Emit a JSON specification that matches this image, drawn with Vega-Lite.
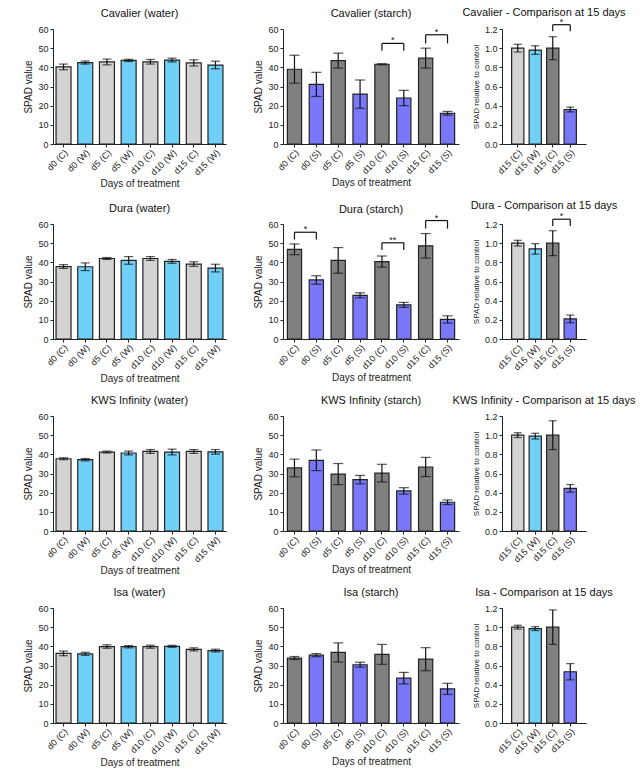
{
  "$schema": "https://vega.github.io/schema/vega-lite/v6.json",
  "padding": {"left": 23, "top": 6, "right": 0, "bottom": 0},
  "background": "white",
  "config": {
    "font": "Liberation Sans",
    "view": {"stroke": null},
    "title": {"fontSize": 11, "fontWeight": "normal", "font": "Liberation Sans", "offset": 6, "anchor": "middle", "frame": "group", "color": "#111"},
    "axis": {"domainColor": "#222", "tickColor": "#222", "labelColor": "#222", "titleColor": "#222", "labelFont": "Liberation Sans", "titleFont": "Liberation Sans", "labelFontSize": 9, "titleFontSize": 10, "titleFontWeight": "normal", "grid": false, "tickSize": 3, "domainWidth": 1, "tickWidth": 1},
    "axisX": {"labelAngle": -45, "labelPadding": 1, "titlePadding": 2},
    "axisY": {"labelPadding": 2, "titlePadding": 4},
    "bar": {"stroke": "#222", "strokeWidth": 1.2},
    "rule": {"color": "#111", "strokeWidth": 1.2},
    "text": {"fontSize": 9, "color": "#111"}
  },
  "vconcat": [
    {
      "hconcat": [
        {
          "title": "Cavalier (water)",
          "width": 173, "height": 115,
          "data": {"values": [
            {"k": "d0 (C)", "g": "C", "v": 40.2, "lo": 38.7, "hi": 41.7},
            {"k": "d0 (W)", "g": "W", "v": 42.5, "lo": 41.7, "hi": 43.3},
            {"k": "d5 (C)", "g": "C", "v": 42.8, "lo": 41.3, "hi": 44.3},
            {"k": "d5 (W)", "g": "W", "v": 43.6, "lo": 43.0, "hi": 44.2},
            {"k": "d10 (C)", "g": "C", "v": 42.9, "lo": 41.7, "hi": 44.1},
            {"k": "d10 (W)", "g": "W", "v": 43.8, "lo": 42.8, "hi": 44.8},
            {"k": "d15 (C)", "g": "C", "v": 42.3, "lo": 40.7, "hi": 43.9},
            {"k": "d15 (W)", "g": "W", "v": 41.2, "lo": 39.2, "hi": 43.2}
          ]},
          "encoding": {"x": {"field": "k", "type": "nominal", "scale": {"domain": ["d0 (C)", "d0 (W)", "d5 (C)", "d5 (W)", "d10 (C)", "d10 (W)", "d15 (C)", "d15 (W)"], "paddingInner": 0.31, "paddingOuter": 0.14}, "axis": {"title": "Days of treatment"}}},
          "layer": [
            {"mark": "bar", "encoding": {"y": {"field": "v", "type": "quantitative", "scale": {"domain": [0, 60], "nice": false}, "axis": {"title": "SPAD value", "values": [0, 10, 20, 30, 40, 50, 60]}}, "color": {"field": "g", "type": "nominal", "scale": {"domain": ["C", "W", "CS", "S"], "range": ["#d3d3d3", "#70d0f8", "#808080", "#7878f8"]}, "legend": null}}},
            {"mark": {"type": "errorbar", "color": "#111", "thickness": 1.2, "size": 9, "ticks": true}, "encoding": {"y": {"field": "lo", "type": "quantitative", "scale": {"domain": [0, 60], "nice": false}, "axis": {"title": "SPAD value", "values": [0, 10, 20, 30, 40, 50, 60]}}, "y2": {"field": "hi"}}}
          ]
        },
        {
          "hconcat": [
            {
              "title": "Cavalier (starch)",
              "width": 176, "height": 115,
              "data": {"values": [
                {"k": "d0 (C)", "g": "CS", "v": 39.0, "lo": 31.7, "hi": 46.3},
                {"k": "d0 (S)", "g": "S", "v": 31.1, "lo": 24.8, "hi": 37.4},
                {"k": "d5 (C)", "g": "CS", "v": 43.5, "lo": 39.6, "hi": 47.4},
                {"k": "d5 (S)", "g": "S", "v": 26.0, "lo": 18.6, "hi": 33.4},
                {"k": "d10 (C)", "g": "CS", "v": 41.6, "lo": 41.3, "hi": 41.9},
                {"k": "d10 (S)", "g": "S", "v": 24.0, "lo": 20.0, "hi": 28.0},
                {"k": "d15 (C)", "g": "CS", "v": 44.8, "lo": 39.6, "hi": 50.0},
                {"k": "d15 (S)", "g": "S", "v": 16.0, "lo": 15.0, "hi": 17.0}
              ]},
              "encoding": {"x": {"field": "k", "type": "nominal", "scale": {"domain": ["d0 (C)", "d0 (S)", "d5 (C)", "d5 (S)", "d10 (C)", "d10 (S)", "d15 (C)", "d15 (S)"], "paddingInner": 0.35, "paddingOuter": 0.2}, "axis": {"title": "Days of treatment"}}},
              "layer": [
                {"mark": "bar", "encoding": {"y": {"field": "v", "type": "quantitative", "scale": {"domain": [0, 60], "nice": false}, "axis": {"title": "SPAD value", "values": [0, 10, 20, 30, 40, 50, 60]}}, "color": {"field": "g", "type": "nominal", "scale": {"domain": ["C", "W", "CS", "S"], "range": ["#d3d3d3", "#70d0f8", "#808080", "#7878f8"]}, "legend": null}}},
                {"mark": {"type": "errorbar", "color": "#111", "thickness": 1.2, "size": 10, "ticks": true}, "encoding": {"y": {"field": "lo", "type": "quantitative", "scale": {"domain": [0, 60], "nice": false}, "axis": {"title": "SPAD value", "values": [0, 10, 20, 30, 40, 50, 60]}}, "y2": {"field": "hi"}}},
                {
                  "data": {"values": [
                    {"a": "d10 (C)", "b": "d10 (S)", "top": 52.5, "leg": 48.7, "s": "*"},
                    {"a": "d15 (C)", "b": "d15 (S)", "top": 57.0, "leg": 52.5, "s": "*"}
                  ]},
                  "layer": [
                    {"mark": "rule", "encoding": {"x": {"field": "a", "type": "nominal"}, "x2": {"field": "b"}, "y": {"field": "top", "type": "quantitative", "scale": {"domain": [0, 60], "nice": false}, "axis": {"title": "SPAD value", "values": [0, 10, 20, 30, 40, 50, 60]}}}},
                    {"mark": "rule", "encoding": {"x": {"field": "a", "type": "nominal"}, "y": {"field": "leg", "type": "quantitative", "scale": {"domain": [0, 60], "nice": false}, "axis": {"title": "SPAD value", "values": [0, 10, 20, 30, 40, 50, 60]}}, "y2": {"field": "top"}}},
                    {"mark": "rule", "encoding": {"x": {"field": "b", "type": "nominal"}, "y": {"field": "leg", "type": "quantitative", "scale": {"domain": [0, 60], "nice": false}, "axis": {"title": "SPAD value", "values": [0, 10, 20, 30, 40, 50, 60]}}, "y2": {"field": "top"}}},
                    {"mark": {"type": "text", "dx": 3.8, "dy": 0, "baseline": "alphabetic"}, "encoding": {"x": {"field": "a", "type": "nominal", "bandPosition": 1}, "y": {"field": "top", "type": "quantitative", "scale": {"domain": [0, 60], "nice": false}, "axis": {"title": "SPAD value", "values": [0, 10, 20, 30, 40, 50, 60]}}, "text": {"field": "s"}}}
                  ]
                }
              ]
            },
            {
              "title": {"text": "Cavalier - Comparison at 15 days", "offset": 0},
              "width": 84, "height": 115,
              "data": {"values": [
                {"k": "C1", "g": "C", "v": 1.0, "lo": 0.96, "hi": 1.04},
                {"k": "W", "g": "W", "v": 0.98, "lo": 0.935, "hi": 1.025},
                {"k": "C2", "g": "CS", "v": 1.0, "lo": 0.88, "hi": 1.12},
                {"k": "S", "g": "S", "v": 0.36, "lo": 0.335, "hi": 0.385}
              ]},
              "encoding": {"x": {"field": "k", "type": "nominal", "scale": {"domain": ["C1", "W", "C2", "S"], "paddingInner": 0.3, "paddingOuter": 0.55}, "axis": {"title": null, "labelExpr": "{'C1': 'd15 (C)', 'W': 'd15 (W)', 'C2': 'd15 (C)', 'S': 'd15 (S)'}[datum.value]"}}},
              "layer": [
                {"mark": "bar", "encoding": {"y": {"field": "v", "type": "quantitative", "scale": {"domain": [0, 1.2], "nice": false}, "axis": {"title": "SPAD relative to control", "titleFontSize": 8, "values": [0, 0.2, 0.4, 0.6, 0.8, 1.0, 1.2], "format": ".1f"}}, "color": {"field": "g", "type": "nominal", "scale": {"domain": ["C", "W", "CS", "S"], "range": ["#d3d3d3", "#70d0f8", "#808080", "#7878f8"]}, "legend": null}}},
                {"mark": {"type": "errorbar", "color": "#111", "thickness": 1.2, "size": 8, "ticks": true}, "encoding": {"y": {"field": "lo", "type": "quantitative", "scale": {"domain": [0, 1.2], "nice": false}, "axis": {"title": "SPAD relative to control", "titleFontSize": 8, "values": [0, 0.2, 0.4, 0.6, 0.8, 1.0, 1.2], "format": ".1f"}}, "y2": {"field": "hi"}}},
                {
                  "data": {"values": [
                    {"a": "C2", "b": "S", "top": 1.245, "leg": 1.176, "s": "*"}
                  ]},
                  "layer": [
                    {"mark": "rule", "encoding": {"x": {"field": "a", "type": "nominal"}, "x2": {"field": "b"}, "y": {"field": "top", "type": "quantitative", "scale": {"domain": [0, 1.2], "nice": false}, "axis": {"title": "SPAD relative to control", "titleFontSize": 8, "values": [0, 0.2, 0.4, 0.6, 0.8, 1.0, 1.2], "format": ".1f"}}}},
                    {"mark": "rule", "encoding": {"x": {"field": "a", "type": "nominal"}, "y": {"field": "leg", "type": "quantitative", "scale": {"domain": [0, 1.2], "nice": false}, "axis": {"title": "SPAD relative to control", "titleFontSize": 8, "values": [0, 0.2, 0.4, 0.6, 0.8, 1.0, 1.2], "format": ".1f"}}, "y2": {"field": "top"}}},
                    {"mark": "rule", "encoding": {"x": {"field": "b", "type": "nominal"}, "y": {"field": "leg", "type": "quantitative", "scale": {"domain": [0, 1.2], "nice": false}, "axis": {"title": "SPAD relative to control", "titleFontSize": 8, "values": [0, 0.2, 0.4, 0.6, 0.8, 1.0, 1.2], "format": ".1f"}}, "y2": {"field": "top"}}},
                    {"mark": {"type": "text", "dx": 2.6, "dy": 0, "baseline": "alphabetic"}, "encoding": {"x": {"field": "a", "type": "nominal", "bandPosition": 1}, "y": {"field": "top", "type": "quantitative", "scale": {"domain": [0, 1.2], "nice": false}, "axis": {"title": "SPAD relative to control", "titleFontSize": 8, "values": [0, 0.2, 0.4, 0.6, 0.8, 1.0, 1.2], "format": ".1f"}}, "text": {"field": "s"}}}
                  ]
                }
              ]
            }
          ],
          "spacing": 43, "bounds": "flush"
        }
      ],
      "spacing": 57, "bounds": "flush"
    },
    {
      "hconcat": [
        {
          "title": "Dura (water)",
          "width": 173, "height": 115,
          "data": {"values": [
            {"k": "d0 (C)", "g": "C", "v": 37.8, "lo": 36.8, "hi": 38.8},
            {"k": "d0 (W)", "g": "W", "v": 37.7, "lo": 35.7, "hi": 39.7},
            {"k": "d5 (C)", "g": "C", "v": 42.0, "lo": 41.5, "hi": 42.5},
            {"k": "d5 (W)", "g": "W", "v": 41.0, "lo": 39.0, "hi": 43.0},
            {"k": "d10 (C)", "g": "C", "v": 42.0, "lo": 41.0, "hi": 43.0},
            {"k": "d10 (W)", "g": "W", "v": 40.5, "lo": 39.5, "hi": 41.5},
            {"k": "d15 (C)", "g": "C", "v": 39.1, "lo": 37.9, "hi": 40.3},
            {"k": "d15 (W)", "g": "W", "v": 37.0, "lo": 35.0, "hi": 39.0}
          ]},
          "encoding": {"x": {"field": "k", "type": "nominal", "scale": {"domain": ["d0 (C)", "d0 (W)", "d5 (C)", "d5 (W)", "d10 (C)", "d10 (W)", "d15 (C)", "d15 (W)"], "paddingInner": 0.31, "paddingOuter": 0.14}, "axis": {"title": "Days of treatment"}}},
          "layer": [
            {"mark": "bar", "encoding": {"y": {"field": "v", "type": "quantitative", "scale": {"domain": [0, 60], "nice": false}, "axis": {"title": "SPAD value", "values": [0, 10, 20, 30, 40, 50, 60]}}, "color": {"field": "g", "type": "nominal", "scale": {"domain": ["C", "W", "CS", "S"], "range": ["#d3d3d3", "#70d0f8", "#808080", "#7878f8"]}, "legend": null}}},
            {"mark": {"type": "errorbar", "color": "#111", "thickness": 1.2, "size": 9, "ticks": true}, "encoding": {"y": {"field": "lo", "type": "quantitative", "scale": {"domain": [0, 60], "nice": false}, "axis": {"title": "SPAD value", "values": [0, 10, 20, 30, 40, 50, 60]}}, "y2": {"field": "hi"}}}
          ]
        },
        {
          "hconcat": [
            {
              "title": {"text": "Dura (starch)", "offset": -1},
              "width": 176, "height": 115,
              "data": {"values": [
                {"k": "d0 (C)", "g": "CS", "v": 46.8, "lo": 44.0, "hi": 49.6},
                {"k": "d0 (S)", "g": "S", "v": 30.8, "lo": 28.6, "hi": 33.0},
                {"k": "d5 (C)", "g": "CS", "v": 41.0, "lo": 34.3, "hi": 47.7},
                {"k": "d5 (S)", "g": "S", "v": 22.8, "lo": 21.5, "hi": 24.1},
                {"k": "d10 (C)", "g": "CS", "v": 40.4, "lo": 37.5, "hi": 43.3},
                {"k": "d10 (S)", "g": "S", "v": 17.8, "lo": 16.5, "hi": 19.1},
                {"k": "d15 (C)", "g": "CS", "v": 48.6, "lo": 42.2, "hi": 55.0},
                {"k": "d15 (S)", "g": "S", "v": 10.2, "lo": 8.3, "hi": 12.1}
              ]},
              "encoding": {"x": {"field": "k", "type": "nominal", "scale": {"domain": ["d0 (C)", "d0 (S)", "d5 (C)", "d5 (S)", "d10 (C)", "d10 (S)", "d15 (C)", "d15 (S)"], "paddingInner": 0.35, "paddingOuter": 0.2}, "axis": {"title": "Days of treatment"}}},
              "layer": [
                {"mark": "bar", "encoding": {"y": {"field": "v", "type": "quantitative", "scale": {"domain": [0, 60], "nice": false}, "axis": {"title": "SPAD value", "values": [0, 10, 20, 30, 40, 50, 60]}}, "color": {"field": "g", "type": "nominal", "scale": {"domain": ["C", "W", "CS", "S"], "range": ["#d3d3d3", "#70d0f8", "#808080", "#7878f8"]}, "legend": null}}},
                {"mark": {"type": "errorbar", "color": "#111", "thickness": 1.2, "size": 10, "ticks": true}, "encoding": {"y": {"field": "lo", "type": "quantitative", "scale": {"domain": [0, 60], "nice": false}, "axis": {"title": "SPAD value", "values": [0, 10, 20, 30, 40, 50, 60]}}, "y2": {"field": "hi"}}},
                {
                  "data": {"values": [
                    {"a": "d0 (C)", "b": "d0 (S)", "top": 55.7, "leg": 51.9, "s": "*"},
                    {"a": "d10 (C)", "b": "d10 (S)", "top": 50.2, "leg": 46.4, "s": "**"},
                    {"a": "d15 (C)", "b": "d15 (S)", "top": 61.8, "leg": 57.6, "s": "*"}
                  ]},
                  "layer": [
                    {"mark": "rule", "encoding": {"x": {"field": "a", "type": "nominal"}, "x2": {"field": "b"}, "y": {"field": "top", "type": "quantitative", "scale": {"domain": [0, 60], "nice": false}, "axis": {"title": "SPAD value", "values": [0, 10, 20, 30, 40, 50, 60]}}}},
                    {"mark": "rule", "encoding": {"x": {"field": "a", "type": "nominal"}, "y": {"field": "leg", "type": "quantitative", "scale": {"domain": [0, 60], "nice": false}, "axis": {"title": "SPAD value", "values": [0, 10, 20, 30, 40, 50, 60]}}, "y2": {"field": "top"}}},
                    {"mark": "rule", "encoding": {"x": {"field": "b", "type": "nominal"}, "y": {"field": "leg", "type": "quantitative", "scale": {"domain": [0, 60], "nice": false}, "axis": {"title": "SPAD value", "values": [0, 10, 20, 30, 40, 50, 60]}}, "y2": {"field": "top"}}},
                    {"mark": {"type": "text", "dx": 3.8, "dy": 0, "baseline": "alphabetic"}, "encoding": {"x": {"field": "a", "type": "nominal", "bandPosition": 1}, "y": {"field": "top", "type": "quantitative", "scale": {"domain": [0, 60], "nice": false}, "axis": {"title": "SPAD value", "values": [0, 10, 20, 30, 40, 50, 60]}}, "text": {"field": "s"}}}
                  ]
                }
              ]
            },
            {
              "title": {"text": "Dura - Comparison at 15 days", "offset": 1},
              "width": 84, "height": 115,
              "data": {"values": [
                {"k": "C1", "g": "C", "v": 1.0, "lo": 0.97, "hi": 1.03},
                {"k": "W", "g": "W", "v": 0.94, "lo": 0.885, "hi": 0.995},
                {"k": "C2", "g": "CS", "v": 1.0, "lo": 0.87, "hi": 1.13},
                {"k": "S", "g": "S", "v": 0.21, "lo": 0.17, "hi": 0.25}
              ]},
              "encoding": {"x": {"field": "k", "type": "nominal", "scale": {"domain": ["C1", "W", "C2", "S"], "paddingInner": 0.3, "paddingOuter": 0.55}, "axis": {"title": null, "labelExpr": "{'C1': 'd15 (C)', 'W': 'd15 (W)', 'C2': 'd15 (C)', 'S': 'd15 (S)'}[datum.value]"}}},
              "layer": [
                {"mark": "bar", "encoding": {"y": {"field": "v", "type": "quantitative", "scale": {"domain": [0, 1.2], "nice": false}, "axis": {"title": "SPAD relative to control", "titleFontSize": 8, "values": [0, 0.2, 0.4, 0.6, 0.8, 1.0, 1.2], "format": ".1f"}}, "color": {"field": "g", "type": "nominal", "scale": {"domain": ["C", "W", "CS", "S"], "range": ["#d3d3d3", "#70d0f8", "#808080", "#7878f8"]}, "legend": null}}},
                {"mark": {"type": "errorbar", "color": "#111", "thickness": 1.2, "size": 8, "ticks": true}, "encoding": {"y": {"field": "lo", "type": "quantitative", "scale": {"domain": [0, 1.2], "nice": false}, "axis": {"title": "SPAD relative to control", "titleFontSize": 8, "values": [0, 0.2, 0.4, 0.6, 0.8, 1.0, 1.2], "format": ".1f"}}, "y2": {"field": "hi"}}},
                {
                  "data": {"values": [
                    {"a": "C2", "b": "S", "top": 1.25, "leg": 1.18, "s": "*"}
                  ]},
                  "layer": [
                    {"mark": "rule", "encoding": {"x": {"field": "a", "type": "nominal"}, "x2": {"field": "b"}, "y": {"field": "top", "type": "quantitative", "scale": {"domain": [0, 1.2], "nice": false}, "axis": {"title": "SPAD relative to control", "titleFontSize": 8, "values": [0, 0.2, 0.4, 0.6, 0.8, 1.0, 1.2], "format": ".1f"}}}},
                    {"mark": "rule", "encoding": {"x": {"field": "a", "type": "nominal"}, "y": {"field": "leg", "type": "quantitative", "scale": {"domain": [0, 1.2], "nice": false}, "axis": {"title": "SPAD relative to control", "titleFontSize": 8, "values": [0, 0.2, 0.4, 0.6, 0.8, 1.0, 1.2], "format": ".1f"}}, "y2": {"field": "top"}}},
                    {"mark": "rule", "encoding": {"x": {"field": "b", "type": "nominal"}, "y": {"field": "leg", "type": "quantitative", "scale": {"domain": [0, 1.2], "nice": false}, "axis": {"title": "SPAD relative to control", "titleFontSize": 8, "values": [0, 0.2, 0.4, 0.6, 0.8, 1.0, 1.2], "format": ".1f"}}, "y2": {"field": "top"}}},
                    {"mark": {"type": "text", "dx": 2.6, "dy": 0, "baseline": "alphabetic"}, "encoding": {"x": {"field": "a", "type": "nominal", "bandPosition": 1}, "y": {"field": "top", "type": "quantitative", "scale": {"domain": [0, 1.2], "nice": false}, "axis": {"title": "SPAD relative to control", "titleFontSize": 8, "values": [0, 0.2, 0.4, 0.6, 0.8, 1.0, 1.2], "format": ".1f"}}, "text": {"field": "s"}}}
                  ]
                }
              ]
            }
          ],
          "spacing": 43, "bounds": "flush"
        }
      ],
      "spacing": 57, "bounds": "flush"
    },
    {
      "hconcat": [
        {
          "title": "KWS Infinity (water)",
          "width": 173, "height": 115,
          "data": {"values": [
            {"k": "d0 (C)", "g": "C", "v": 37.7, "lo": 37.2, "hi": 38.2},
            {"k": "d0 (W)", "g": "W", "v": 37.2, "lo": 36.6, "hi": 37.8},
            {"k": "d5 (C)", "g": "C", "v": 41.2, "lo": 40.7, "hi": 41.7},
            {"k": "d5 (W)", "g": "W", "v": 40.7, "lo": 39.7, "hi": 41.7},
            {"k": "d10 (C)", "g": "C", "v": 41.5, "lo": 40.5, "hi": 42.5},
            {"k": "d10 (W)", "g": "W", "v": 41.2, "lo": 39.7, "hi": 42.7},
            {"k": "d15 (C)", "g": "C", "v": 41.5, "lo": 40.5, "hi": 42.5},
            {"k": "d15 (W)", "g": "W", "v": 41.3, "lo": 40.1, "hi": 42.5}
          ]},
          "encoding": {"x": {"field": "k", "type": "nominal", "scale": {"domain": ["d0 (C)", "d0 (W)", "d5 (C)", "d5 (W)", "d10 (C)", "d10 (W)", "d15 (C)", "d15 (W)"], "paddingInner": 0.31, "paddingOuter": 0.14}, "axis": {"title": "Days of treatment"}}},
          "layer": [
            {"mark": "bar", "encoding": {"y": {"field": "v", "type": "quantitative", "scale": {"domain": [0, 60], "nice": false}, "axis": {"title": "SPAD value", "values": [0, 10, 20, 30, 40, 50, 60]}}, "color": {"field": "g", "type": "nominal", "scale": {"domain": ["C", "W", "CS", "S"], "range": ["#d3d3d3", "#70d0f8", "#808080", "#7878f8"]}, "legend": null}}},
            {"mark": {"type": "errorbar", "color": "#111", "thickness": 1.2, "size": 9, "ticks": true}, "encoding": {"y": {"field": "lo", "type": "quantitative", "scale": {"domain": [0, 60], "nice": false}, "axis": {"title": "SPAD value", "values": [0, 10, 20, 30, 40, 50, 60]}}, "y2": {"field": "hi"}}}
          ]
        },
        {
          "hconcat": [
            {
              "title": "KWS Infinity (starch)",
              "width": 176, "height": 115,
              "data": {"values": [
                {"k": "d0 (C)", "g": "CS", "v": 32.9, "lo": 28.3, "hi": 37.5},
                {"k": "d0 (S)", "g": "S", "v": 36.9, "lo": 31.5, "hi": 42.3},
                {"k": "d5 (C)", "g": "CS", "v": 29.7, "lo": 24.2, "hi": 35.2},
                {"k": "d5 (S)", "g": "S", "v": 26.8, "lo": 24.6, "hi": 29.0},
                {"k": "d10 (C)", "g": "CS", "v": 30.2, "lo": 25.6, "hi": 34.8},
                {"k": "d10 (S)", "g": "S", "v": 20.9, "lo": 19.2, "hi": 22.6},
                {"k": "d15 (C)", "g": "CS", "v": 33.4, "lo": 28.4, "hi": 38.4},
                {"k": "d15 (S)", "g": "S", "v": 15.0, "lo": 13.8, "hi": 16.2}
              ]},
              "encoding": {"x": {"field": "k", "type": "nominal", "scale": {"domain": ["d0 (C)", "d0 (S)", "d5 (C)", "d5 (S)", "d10 (C)", "d10 (S)", "d15 (C)", "d15 (S)"], "paddingInner": 0.35, "paddingOuter": 0.2}, "axis": {"title": "Days of treatment"}}},
              "layer": [
                {"mark": "bar", "encoding": {"y": {"field": "v", "type": "quantitative", "scale": {"domain": [0, 60], "nice": false}, "axis": {"title": "SPAD value", "values": [0, 10, 20, 30, 40, 50, 60]}}, "color": {"field": "g", "type": "nominal", "scale": {"domain": ["C", "W", "CS", "S"], "range": ["#d3d3d3", "#70d0f8", "#808080", "#7878f8"]}, "legend": null}}},
                {"mark": {"type": "errorbar", "color": "#111", "thickness": 1.2, "size": 10, "ticks": true}, "encoding": {"y": {"field": "lo", "type": "quantitative", "scale": {"domain": [0, 60], "nice": false}, "axis": {"title": "SPAD value", "values": [0, 10, 20, 30, 40, 50, 60]}}, "y2": {"field": "hi"}}}
              ]
            },
            {
              "title": "KWS Infinity - Comparison at 15 days",
              "width": 84, "height": 115,
              "data": {"values": [
                {"k": "C1", "g": "C", "v": 1.0, "lo": 0.975, "hi": 1.025},
                {"k": "W", "g": "W", "v": 0.99, "lo": 0.96, "hi": 1.02},
                {"k": "C2", "g": "CS", "v": 1.0, "lo": 0.85, "hi": 1.15},
                {"k": "S", "g": "S", "v": 0.445, "lo": 0.405, "hi": 0.485}
              ]},
              "encoding": {"x": {"field": "k", "type": "nominal", "scale": {"domain": ["C1", "W", "C2", "S"], "paddingInner": 0.3, "paddingOuter": 0.55}, "axis": {"title": null, "labelExpr": "{'C1': 'd15 (C)', 'W': 'd15 (W)', 'C2': 'd15 (C)', 'S': 'd15 (S)'}[datum.value]"}}},
              "layer": [
                {"mark": "bar", "encoding": {"y": {"field": "v", "type": "quantitative", "scale": {"domain": [0, 1.2], "nice": false}, "axis": {"title": "SPAD relative to control", "titleFontSize": 8, "values": [0, 0.2, 0.4, 0.6, 0.8, 1.0, 1.2], "format": ".1f"}}, "color": {"field": "g", "type": "nominal", "scale": {"domain": ["C", "W", "CS", "S"], "range": ["#d3d3d3", "#70d0f8", "#808080", "#7878f8"]}, "legend": null}}},
                {"mark": {"type": "errorbar", "color": "#111", "thickness": 1.2, "size": 8, "ticks": true}, "encoding": {"y": {"field": "lo", "type": "quantitative", "scale": {"domain": [0, 1.2], "nice": false}, "axis": {"title": "SPAD relative to control", "titleFontSize": 8, "values": [0, 0.2, 0.4, 0.6, 0.8, 1.0, 1.2], "format": ".1f"}}, "y2": {"field": "hi"}}}
              ]
            }
          ],
          "spacing": 43, "bounds": "flush"
        }
      ],
      "spacing": 57, "bounds": "flush"
    },
    {
      "hconcat": [
        {
          "title": "Isa (water)",
          "width": 173, "height": 115,
          "data": {"values": [
            {"k": "d0 (C)", "g": "C", "v": 36.3, "lo": 35.1, "hi": 37.5},
            {"k": "d0 (W)", "g": "W", "v": 36.1, "lo": 35.3, "hi": 36.9},
            {"k": "d5 (C)", "g": "C", "v": 39.9, "lo": 39.0, "hi": 40.8},
            {"k": "d5 (W)", "g": "W", "v": 39.8, "lo": 39.2, "hi": 40.4},
            {"k": "d10 (C)", "g": "C", "v": 39.8, "lo": 39.0, "hi": 40.6},
            {"k": "d10 (W)", "g": "W", "v": 40.0, "lo": 39.5, "hi": 40.5},
            {"k": "d15 (C)", "g": "C", "v": 38.4, "lo": 37.6, "hi": 39.2},
            {"k": "d15 (W)", "g": "W", "v": 37.8, "lo": 37.1, "hi": 38.5}
          ]},
          "encoding": {"x": {"field": "k", "type": "nominal", "scale": {"domain": ["d0 (C)", "d0 (W)", "d5 (C)", "d5 (W)", "d10 (C)", "d10 (W)", "d15 (C)", "d15 (W)"], "paddingInner": 0.31, "paddingOuter": 0.14}, "axis": {"title": "Days of treatment"}}},
          "layer": [
            {"mark": "bar", "encoding": {"y": {"field": "v", "type": "quantitative", "scale": {"domain": [0, 60], "nice": false}, "axis": {"title": "SPAD value", "values": [0, 10, 20, 30, 40, 50, 60]}}, "color": {"field": "g", "type": "nominal", "scale": {"domain": ["C", "W", "CS", "S"], "range": ["#d3d3d3", "#70d0f8", "#808080", "#7878f8"]}, "legend": null}}},
            {"mark": {"type": "errorbar", "color": "#111", "thickness": 1.2, "size": 9, "ticks": true}, "encoding": {"y": {"field": "lo", "type": "quantitative", "scale": {"domain": [0, 60], "nice": false}, "axis": {"title": "SPAD value", "values": [0, 10, 20, 30, 40, 50, 60]}}, "y2": {"field": "hi"}}}
          ]
        },
        {
          "hconcat": [
            {
              "title": "Isa (starch)",
              "width": 176, "height": 115,
              "data": {"values": [
                {"k": "d0 (C)", "g": "CS", "v": 33.9, "lo": 33.1, "hi": 34.7},
                {"k": "d0 (S)", "g": "S", "v": 35.4, "lo": 34.6, "hi": 36.2},
                {"k": "d5 (C)", "g": "CS", "v": 36.8, "lo": 31.8, "hi": 41.8},
                {"k": "d5 (S)", "g": "S", "v": 30.4, "lo": 29.1, "hi": 31.7},
                {"k": "d10 (C)", "g": "CS", "v": 35.8, "lo": 30.6, "hi": 41.0},
                {"k": "d10 (S)", "g": "S", "v": 23.4, "lo": 20.4, "hi": 26.4},
                {"k": "d15 (C)", "g": "CS", "v": 33.3, "lo": 27.3, "hi": 39.3},
                {"k": "d15 (S)", "g": "S", "v": 17.8, "lo": 14.9, "hi": 20.7}
              ]},
              "encoding": {"x": {"field": "k", "type": "nominal", "scale": {"domain": ["d0 (C)", "d0 (S)", "d5 (C)", "d5 (S)", "d10 (C)", "d10 (S)", "d15 (C)", "d15 (S)"], "paddingInner": 0.35, "paddingOuter": 0.2}, "axis": {"title": "Days of treatment"}}},
              "layer": [
                {"mark": "bar", "encoding": {"y": {"field": "v", "type": "quantitative", "scale": {"domain": [0, 60], "nice": false}, "axis": {"title": "SPAD value", "values": [0, 10, 20, 30, 40, 50, 60]}}, "color": {"field": "g", "type": "nominal", "scale": {"domain": ["C", "W", "CS", "S"], "range": ["#d3d3d3", "#70d0f8", "#808080", "#7878f8"]}, "legend": null}}},
                {"mark": {"type": "errorbar", "color": "#111", "thickness": 1.2, "size": 10, "ticks": true}, "encoding": {"y": {"field": "lo", "type": "quantitative", "scale": {"domain": [0, 60], "nice": false}, "axis": {"title": "SPAD value", "values": [0, 10, 20, 30, 40, 50, 60]}}, "y2": {"field": "hi"}}}
              ]
            },
            {
              "title": "Isa - Comparison at 15 days",
              "width": 84, "height": 115,
              "data": {"values": [
                {"k": "C1", "g": "C", "v": 1.0, "lo": 0.98, "hi": 1.02},
                {"k": "W", "g": "W", "v": 0.985, "lo": 0.965, "hi": 1.005},
                {"k": "C2", "g": "CS", "v": 1.0, "lo": 0.82, "hi": 1.18},
                {"k": "S", "g": "S", "v": 0.535, "lo": 0.45, "hi": 0.62}
              ]},
              "encoding": {"x": {"field": "k", "type": "nominal", "scale": {"domain": ["C1", "W", "C2", "S"], "paddingInner": 0.3, "paddingOuter": 0.55}, "axis": {"title": null, "labelExpr": "{'C1': 'd15 (C)', 'W': 'd15 (W)', 'C2': 'd15 (C)', 'S': 'd15 (S)'}[datum.value]"}}},
              "layer": [
                {"mark": "bar", "encoding": {"y": {"field": "v", "type": "quantitative", "scale": {"domain": [0, 1.2], "nice": false}, "axis": {"title": "SPAD relative to control", "titleFontSize": 8, "values": [0, 0.2, 0.4, 0.6, 0.8, 1.0, 1.2], "format": ".1f"}}, "color": {"field": "g", "type": "nominal", "scale": {"domain": ["C", "W", "CS", "S"], "range": ["#d3d3d3", "#70d0f8", "#808080", "#7878f8"]}, "legend": null}}},
                {"mark": {"type": "errorbar", "color": "#111", "thickness": 1.2, "size": 8, "ticks": true}, "encoding": {"y": {"field": "lo", "type": "quantitative", "scale": {"domain": [0, 1.2], "nice": false}, "axis": {"title": "SPAD relative to control", "titleFontSize": 8, "values": [0, 0.2, 0.4, 0.6, 0.8, 1.0, 1.2], "format": ".1f"}}, "y2": {"field": "hi"}}}
              ]
            }
          ],
          "spacing": 43, "bounds": "flush"
        }
      ],
      "spacing": 57, "bounds": "flush"
    }
  ],
  "spacing": 11
}
